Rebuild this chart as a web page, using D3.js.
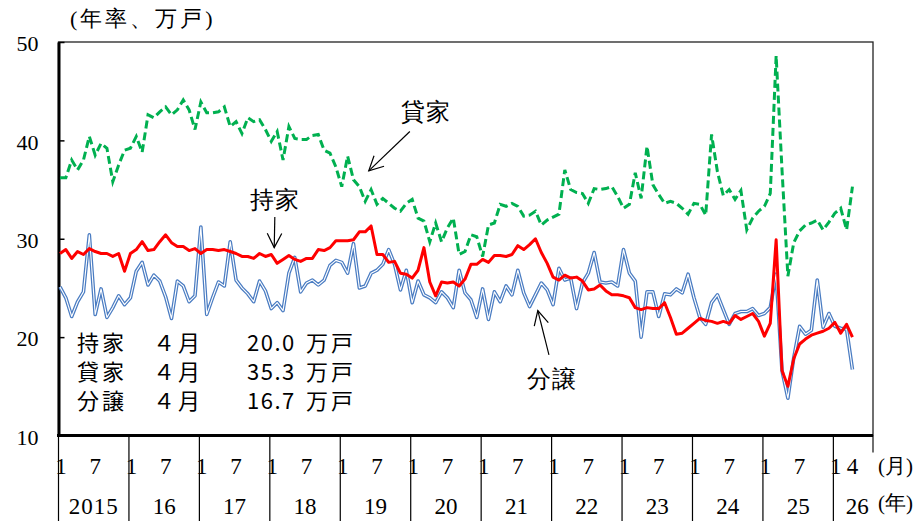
<html>
<head>
<meta charset="utf-8">
<style>
  body { margin: 0; background: #fff; }
</style>
<script src="https://d3js.org/d3.v7.min.js"></script>
</head>
<body>
<script type="text/javascript">
// 住宅着工（季節調整済年率、万戸）2015年1月〜2026年4月
var years = ['2015','16','17','18','19','20','21','22','23','24','25','26'];

// 持家
var mochiie = [
  28.5, 28.9, 28.0, 28.7, 28.4, 29.0, 28.7, 28.5, 28.5, 28.2, 28.5, 26.7,
  28.5, 28.9, 29.7, 28.8, 28.9, 29.7, 30.4, 29.6, 29.2, 29.2, 28.8, 29.0,
  28.5, 28.9, 28.9, 28.8, 28.9, 28.7, 28.5, 28.2, 28.2, 28.0, 28.5, 28.2,
  28.4, 27.5, 27.9, 28.3, 27.9, 27.7, 28.0, 28.0, 28.9, 28.8, 29.1, 29.8,
  29.8, 29.8, 29.9, 30.7, 30.7, 31.3, 28.4, 28.4, 27.6, 27.7, 26.5, 26.4,
  26.0, 26.8, 29.1, 25.6, 24.2, 25.6, 25.5, 25.6, 25.2, 25.9, 27.4, 27.4,
  27.9, 27.6, 28.3, 28.3, 28.2, 28.4, 29.3, 28.9, 29.4, 30.0, 28.6, 27.5,
  26.1, 25.8, 26.3, 26.0, 26.1, 25.7, 24.8, 24.9, 25.3, 24.7, 24.3, 24.3,
  24.2, 24.0, 23.0, 22.8, 23.0, 22.9, 22.9, 23.5, 22.0, 20.3, 20.4, 20.9,
  21.4, 21.9, 21.7, 21.6, 21.4, 21.6, 21.4, 22.2, 21.8, 22.1, 22.4, 21.6,
  20.1, 21.4, 29.9, 16.6, 15.0, 17.8, 19.3, 19.8, 20.2, 20.4, 20.6, 20.9,
  21.5, 20.4, 21.3, 20.0
];

// 貸家
var kashiya = [
  36.2, 36.2, 38.0, 37.0, 38.0, 40.4, 38.5, 39.7, 39.2, 35.8, 37.5, 39.0,
  39.2, 40.4, 38.8, 42.6, 42.3, 42.9, 43.4, 42.6, 43.1, 44.1, 43.1, 41.1,
  43.9, 42.8, 42.8, 42.9, 43.4, 41.4, 41.9, 40.7, 42.3, 41.9, 42.1, 41.1,
  39.9, 40.9, 38.0, 41.4, 40.2, 40.1, 40.1, 40.5, 40.6, 39.0, 38.7, 37.3,
  35.3, 38.4, 36.0, 35.3, 33.8, 35.0, 33.5, 34.1, 33.6, 33.1, 32.8, 33.6,
  34.0, 32.1, 31.8, 29.7, 31.6, 29.7, 31.1, 32.1, 28.4, 28.7, 30.4, 30.2,
  28.2, 31.4, 31.6, 33.5, 33.3, 33.6, 33.3, 32.3, 32.4, 32.8, 31.4, 31.9,
  32.2, 32.5, 37.0, 35.0, 34.7, 34.6, 33.6, 35.1, 35.0, 35.1, 35.3, 34.3,
  33.1, 33.5, 36.7, 34.1, 39.4, 35.5, 34.5, 33.6, 33.8, 33.6, 33.1, 32.5,
  33.6, 33.5, 32.4, 40.6, 36.8, 34.4, 35.0, 34.0, 34.9, 30.9, 32.1, 32.8,
  33.3, 34.6, 48.6, 37.0, 26.2, 29.6, 30.8, 31.4, 31.6, 31.9, 30.9, 31.7,
  32.6, 33.1, 30.9, 35.3
];

// 分譲
var bunjo = [
  25.1, 24.0, 22.1, 23.6, 24.6, 30.4, 22.3, 24.9, 22.0, 23.0, 24.2, 23.3,
  24.0, 26.7, 27.6, 25.3, 26.3, 25.7, 24.1, 21.9, 25.7, 25.2, 23.6, 24.2,
  31.2, 22.3, 24.0, 25.6, 25.2, 29.7, 25.8, 25.0, 24.4, 23.6, 25.7, 24.7,
  22.9, 23.5, 22.7, 26.5, 28.1, 24.6, 25.5, 25.8, 25.3, 25.8, 27.3, 27.8,
  27.6, 26.5, 29.5, 25.0, 25.2, 26.5, 26.8, 27.4, 28.9, 27.4, 24.8, 26.8,
  23.5, 25.7, 24.3, 24.0, 23.5, 24.6, 24.0, 23.0, 26.8, 24.5, 23.8, 22.0,
  24.9, 21.8, 24.6, 23.6, 25.2, 24.3, 26.8, 24.5, 23.1, 24.3, 25.5, 24.8,
  23.3, 27.0, 25.8, 26.0, 22.9, 25.5, 26.5, 28.6, 25.6, 25.5, 25.6, 25.2,
  28.9, 26.5, 25.7, 20.0, 24.6, 24.6, 22.1, 24.4, 24.3, 24.9, 24.5, 26.4,
  24.0, 22.0, 21.3, 23.5, 24.3, 22.8, 21.3, 22.4, 22.6, 22.6, 22.9, 22.2,
  22.4, 23.0, 26.4, 16.6, 13.8, 17.9, 21.1, 20.3, 20.7, 25.8, 21.0, 22.4,
  21.1, 20.9, 20.8, 16.7
];

var yTicks = [10, 20, 30, 40, 50];
var monthTickText = ['1', '7'];     // 各年の表示月
var lastYearTickText = ['1', '4'];  // 2026年の表示月

// 最新月の凡例
var legendNames = ['持家', '貸家', '分譲'];
var legendMonth = '４月';
var legendValues = ['20.0', '35.3', '16.7'];
var legendUnit = '万戸';

// 矢印付き注記（x: 月の番号, y: 万戸）
var notes = [
  {label: '貸家', tx: 62.4, ty: 42.9, x1: 59.6, y1: 40.9, x2: 52.6, y2: 36.9},
  {label: '持家', tx: 36.6, ty: 34.0, x1: 36.6, y1: 32.2, x2: 36.5, y2: 29.1},
  {label: '分譲', tx: 83.8, ty: 15.8, x1: 83.3, y1: 18.2, x2: 81.4, y2: 22.7}
];

var serif = '"Liberation Serif", serif';
var gothic = '"Noto Sans CJK JP", sans-serif';

var screen = {width: 924, height: 521};
var plot = {left: 58.5, right: 873, top: 42, bottom: 435.5};

var xScale = d3.scaleLinear()
  .domain([-0.25, 138.5])
  .range([plot.left, plot.right]);

var yScale = d3.scaleLinear()
  .domain([10, 50])
  .range([plot.bottom, plot.top]);

var svg = d3.select('body').append('svg')
  .attr('width', screen.width)
  .attr('height', screen.height);

// plot frame (top / right thin)
svg.append('rect')
  .attr('x', plot.left)
  .attr('y', plot.top)
  .attr('width', plot.right - plot.left)
  .attr('height', plot.bottom - plot.top)
  .attr('fill', 'none')
  .attr('stroke', '#222')
  .attr('stroke-width', 1.3);

// right border runs a bit into the label area
svg.append('line')
  .attr('x1', plot.right).attr('x2', plot.right)
  .attr('y1', plot.bottom).attr('y2', plot.bottom + 17)
  .attr('stroke', '#222').attr('stroke-width', 1.3);

// y axis
var yAxis = d3.axisLeft(yScale)
  .tickValues(yTicks)
  .tickSizeInner(-6)
  .tickSizeOuter(0)
  .tickPadding(20);

var gy = svg.append('g')
  .attr('transform', 'translate(' + plot.left + ',0)')
  .call(yAxis)
  .attr('font-family', null)
  .attr('font-size', null);
gy.select('.domain').attr('stroke', '#000').attr('stroke-width', 3);
gy.selectAll('.tick line').attr('stroke', '#000').attr('stroke-width', 1.5);
gy.selectAll('.tick text')
  .attr('dy', '0.4em')
  .style('font-family', serif)
  .style('font-size', '22px')
  .attr('fill', '#000');

// x axis line
svg.append('line')
  .attr('x1', plot.left - 1.5).attr('x2', plot.right)
  .attr('y1', plot.bottom).attr('y2', plot.bottom)
  .attr('stroke', '#000').attr('stroke-width', 3);

// year separators and labels
var nYears = years.length;
var lastIdx = mochiie.length - 1;
for (var k = 0; k < nYears; k++) {
  var xs = xScale(12 * k - 0.25);
  svg.append('line')
    .attr('x1', xs).attr('x2', xs)
    .attr('y1', plot.bottom).attr('y2', screen.height)
    .attr('stroke', '#000').attr('stroke-width', 1.2);

  var xe = (k < nYears - 1) ? xScale(12 * (k + 1) - 0.25) : plot.right + 8;
  svg.append('text')
    .attr('x', (xs + xe) / 2)
    .attr('y', 506)
    .attr('dy', '0.35em')
    .attr('text-anchor', 'middle')
    .style('font-family', serif)
    .style('font-size', '23px')
    .style('letter-spacing', k == 0 ? '1px' : '0px')
    .text(years[k]);

  var tickIdx = (k < nYears - 1) ? [12 * k, 12 * k + 6] : [12 * k, lastIdx];
  var tickTxt = (k < nYears - 1) ? monthTickText : lastYearTickText;
  for (var m = 0; m < 2; m++) {
    svg.append('text')
      .attr('x', xScale(tickIdx[m]) + (m == 0 ? 1 : 0))
      .attr('y', 466)
      .attr('dy', '0.35em')
      .attr('text-anchor', 'middle')
      .style('font-family', serif)
      .style('font-size', '23px')
      .text(tickTxt[m]);
  }
}

svg.append('text')
  .attr('x', plot.right + 5).attr('y', 466)
  .attr('dy', '0.35em')
  .style('font-family', serif)
  .style('font-size', '21px')
  .text('(月)');
svg.append('text')
  .attr('x', plot.right + 5).attr('y', 503)
  .attr('dy', '0.35em')
  .style('font-family', serif)
  .style('font-size', '21px')
  .text('(年)');

// unit
svg.append('text')
  .attr('x', 70).attr('y', 18)
  .attr('dy', '0.35em')
  .style('font-family', serif)
  .style('font-size', '22px')
  .style('letter-spacing', '3px')
  .text('(年率、万戸)');

// series
var line = d3.line()
  .x(function(d, i) { return xScale(i); })
  .y(function(d) { return yScale(d); });

// 分譲: double line
svg.append('path')
  .attr('d', line(bunjo))
  .attr('fill', 'none')
  .attr('stroke', '#4a7cc2')
  .attr('stroke-width', 3.6)
  .attr('stroke-linejoin', 'round');
svg.append('path')
  .attr('d', line(bunjo))
  .attr('fill', 'none')
  .attr('stroke', '#fff')
  .attr('stroke-width', 1.1)
  .attr('stroke-linejoin', 'round');

// 貸家
svg.append('path')
  .attr('d', line(kashiya))
  .attr('fill', 'none')
  .attr('stroke', '#00b050')
  .attr('stroke-width', 3)
  .attr('stroke-dasharray', '8,4');

// 持家
svg.append('path')
  .attr('d', line(mochiie))
  .attr('fill', 'none')
  .attr('stroke', '#ff0000')
  .attr('stroke-width', 3)
  .attr('stroke-linejoin', 'round');

// annotations
notes.forEach(function(n) {
  var x1 = xScale(n.x1), y1 = yScale(n.y1), x2 = xScale(n.x2), y2 = yScale(n.y2);
  var ang = Math.atan2(y2 - y1, x2 - x1);
  var len = 16, spread = 0.47;
  svg.append('line')
    .attr('x1', x1).attr('y1', y1).attr('x2', x2).attr('y2', y2)
    .attr('stroke', '#000').attr('stroke-width', 1.2);
  svg.append('path')
    .attr('d', 'M' + (x2 - len * Math.cos(ang - spread)) + ',' + (y2 - len * Math.sin(ang - spread)) +
               'L' + x2 + ',' + y2 +
               'L' + (x2 - len * Math.cos(ang + spread)) + ',' + (y2 - len * Math.sin(ang + spread)))
    .attr('fill', 'none')
    .attr('stroke', '#000').attr('stroke-width', 1.2);
  svg.append('text')
    .attr('x', xScale(n.tx)).attr('y', yScale(n.ty))
    .attr('dy', '0.35em')
    .attr('text-anchor', 'middle')
    .style('font-family', serif)
    .style('font-size', '24px')
    .style('letter-spacing', '1px')
    .text(n.label);
});

// legend (latest month)
var rowY = [343, 372, 401];
for (var r = 0; r < legendNames.length; r++) {
  var g = svg.append('g').style('font-family', gothic).style('font-size', '22px');
  g.append('text').attr('x', 77).attr('y', rowY[r]).attr('dy', '0.35em')
    .style('letter-spacing', '3px').text(legendNames[r]);
  g.append('text').attr('x', 153).attr('y', rowY[r]).attr('dy', '0.35em')
    .style('letter-spacing', '3px').text(legendMonth);
  g.append('text').attr('x', 247).attr('y', rowY[r]).attr('dy', '0.35em')
    .style('letter-spacing', '1.5px').text(legendValues[r]);
  g.append('text').attr('x', 306).attr('y', rowY[r]).attr('dy', '0.35em')
    .style('letter-spacing', '3px').text(legendUnit);
}
</script>
</body>
</html>
